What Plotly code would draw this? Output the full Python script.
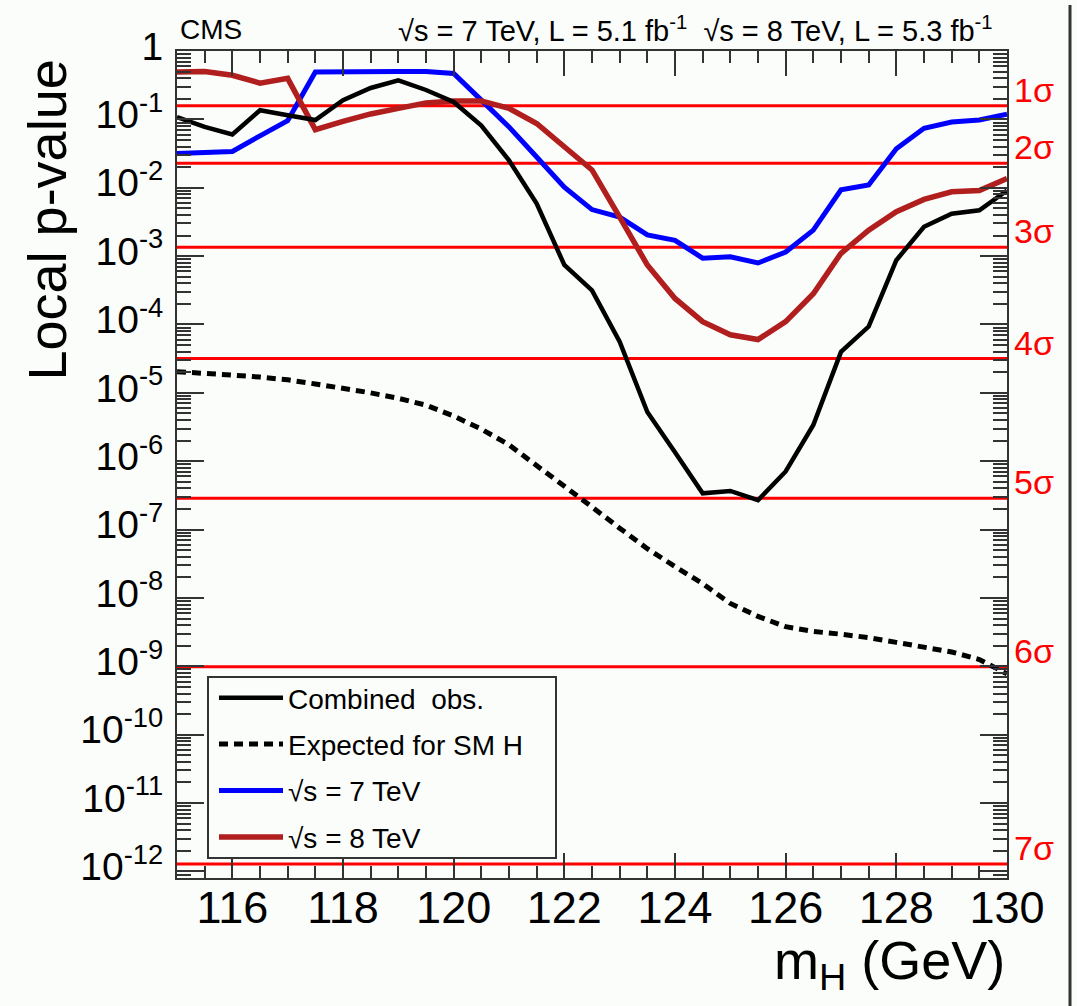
import math
import plotly.graph_objects as go

# ---------------- data ----------------
mass = [115.0, 115.5, 116.0, 116.5, 117.0, 117.5, 118.0, 118.5, 119.0, 119.5,
        120.0, 120.5, 121.0, 121.5, 122.0, 122.5, 123.0, 123.5, 124.0, 124.5,
        125.0, 125.5, 126.0, 126.5, 127.0, 127.5, 128.0, 128.5, 129.0, 129.5, 130.0]

p_combined = [0.108, 0.0776, 0.0603, 0.136, 0.115, 0.0977, 0.191, 0.288, 0.372, 0.269,
              0.180, 0.0813, 0.0251, 5.89e-3, 7.41e-4, 3.16e-4, 5.62e-5, 5.25e-6, 1.35e-6, 3.39e-7,
              3.67e-7, 2.69e-7, 7.08e-7, 3.39e-6, 3.98e-5, 9.33e-5, 8.71e-4, 2.69e-3, 4.17e-3, 4.68e-3, 9.12e-3]

p_expected = [2.04e-5, 1.95e-5, 1.82e-5, 1.70e-5, 1.55e-5, 1.35e-5, 1.17e-5, 1.00e-5, 8.32e-6, 6.61e-6,
              4.57e-6, 2.95e-6, 1.74e-6, 8.71e-7, 4.47e-7, 2.14e-7, 1.05e-7, 5.25e-8, 2.88e-8, 1.62e-8,
              8.32e-9, 5.37e-9, 3.80e-9, 3.24e-9, 2.95e-9, 2.63e-9, 2.24e-9, 1.91e-9, 1.62e-9, 1.26e-9, 7.76e-10]

p_7tev = [0.0316, 0.0324, 0.0339, 0.0575, 0.0955, 0.493, 0.50, 0.50, 0.50, 0.50,
          0.468, 0.191, 0.0776, 0.0282, 0.0102, 4.79e-3, 3.72e-3, 2.04e-3, 1.70e-3, 9.33e-4,
          9.77e-4, 7.94e-4, 1.15e-3, 2.40e-3, 9.33e-3, 0.0110, 0.0372, 0.0741, 0.0912, 0.0977, 0.119]

p_8tev = [0.493, 0.50, 0.442, 0.339, 0.398, 0.0708, 0.0933, 0.120, 0.145, 0.174,
          0.186, 0.186, 0.145, 0.0871, 0.0398, 0.0182, 3.72e-3, 7.41e-4, 2.40e-4, 1.10e-4,
          7.08e-5, 6.03e-5, 1.10e-4, 2.82e-4, 1.10e-3, 2.40e-3, 4.47e-3, 6.76e-3, 8.71e-3, 9.12e-3, 0.0136]

sigma_p = [0.1587, 0.02275, 1.35e-3, 3.167e-5, 2.867e-7, 9.866e-10, 1.280e-12]
sigma_labels = ["1σ", "2σ", "3σ", "4σ", "5σ", "6σ", "7σ"]

y_tick_vals = [1, 1e-1, 1e-2, 1e-3, 1e-4, 1e-5, 1e-6, 1e-7, 1e-8, 1e-9, 1e-10, 1e-11, 1e-12]
y_tick_text = ["1"] + ["10<sup>-%d</sup>" % k for k in range(1, 13)]
x_tick_vals = [116, 118, 120, 122, 124, 126, 128, 130]
x_range = [115, 130]
y_range_log = [-12.096, 0]

# ---------------- styling ----------------
FONT = "Liberation Sans, Arial, Helvetica, sans-serif"
W, H = 1077, 1006
L_M, R_M, T_M, B_M = 177, 70, 51, 128
plot_w = W - L_M - R_M
plot_h = H - T_M - B_M
BG = "#fbfdfb"
AXCOL = "#333333"


def px_to_paper_x(px):
    return (px - L_M) / plot_w


def px_to_paper_y(py):
    return (H - B_M - py) / plot_h


fig = go.Figure()

# sigma reference lines
for p in sigma_p:
    fig.add_trace(go.Scatter(x=[x_range[0], x_range[1]], y=[p, p], mode="lines",
                             line=dict(color="#ff0000", width=3), showlegend=False,
                             hoverinfo="skip"))

fig.add_trace(go.Scatter(x=mass, y=p_7tev, mode="lines", name="√s = 7 TeV",
                         line=dict(color="#0000ff", width=5), legendrank=3,
                         legendgroup="c"))
fig.add_trace(go.Scatter(x=mass, y=p_8tev, mode="lines", name="√s = 8 TeV",
                         line=dict(color="#b01e1e", width=5.5), legendrank=4,
                         legendgroup="d"))
fig.add_trace(go.Scatter(x=mass, y=p_expected, mode="lines", name="Expected for SM H",
                         line=dict(color="#000000", width=5, dash="9px,6px"), legendrank=2,
                         legendgroup="b"))
fig.add_trace(go.Scatter(x=mass, y=p_combined, mode="lines", name="Combined  obs.",
                         line=dict(color="#000000", width=4.5), legendrank=1,
                         legendgroup="a"))

# minor tick positions on the log axis
y_minor = []
for e in range(-13, 0):
    for m in range(2, 10):
        v = m * 10.0 ** e
        if math.log10(v) >= y_range_log[0]:
            y_minor.append(v)

fig.update_xaxes(range=x_range, tickmode="array", tickvals=x_tick_vals,
                 ticks="inside", ticklen=25, tickwidth=1.5, tickcolor=AXCOL,
                 minor=dict(dtick=0.5, tick0=115, ticks="inside", ticklen=12,
                            tickwidth=1.5, tickcolor=AXCOL),
                 showline=True, linecolor=AXCOL, linewidth=2, mirror="allticks",
                 showgrid=False, zeroline=False,
                 tickfont=dict(family=FONT, size=45, color="#000"),
                 ticklabelstandoff=-11)
fig.update_yaxes(type="log", range=y_range_log, tickmode="array",
                 tickvals=y_tick_vals, ticktext=y_tick_text,
                 ticks="inside", ticklen=27, tickwidth=1.5, tickcolor=AXCOL,
                 minor=dict(tickmode="array", tickvals=y_minor, ticks="inside",
                            ticklen=14, tickwidth=1.5, tickcolor=AXCOL),
                 showline=True, linecolor=AXCOL, linewidth=2, mirror="allticks",
                 showgrid=False, zeroline=False,
                 tickfont=dict(family=FONT, size=39, color="#000"),
                 ticklabelstandoff=4, ticklabelshift=-5)

annotations = []
# sigma labels
for p, lab in zip(sigma_p, sigma_labels):
    annotations.append(dict(text=lab, xref="paper", x=1.0, xanchor="left", xshift=5,
                            yref="y", y=math.log10(p), yanchor="bottom", yshift=-5,
                            showarrow=False, font=dict(family=FONT, size=34, color="#ff0000")))
# titles and header texts
annotations.append(dict(text="Local p-value", textangle=-90, xref="paper",
                        x=px_to_paper_x(47), xanchor="center", yref="paper",
                        y=px_to_paper_y(58), yanchor="top", showarrow=False,
                        font=dict(family=FONT, size=54, color="#000")))
annotations.append(dict(text="m<sub>H</sub> (GeV)", xref="paper", x=px_to_paper_x(1007),
                        xanchor="right", yref="paper", y=px_to_paper_y(964),
                        yanchor="middle", showarrow=False,
                        font=dict(family=FONT, size=54, color="#000")))
annotations.append(dict(text="CMS", xref="paper", x=px_to_paper_x(178), xanchor="left",
                        yref="paper", y=px_to_paper_y(29), yanchor="middle",
                        showarrow=False, font=dict(family=FONT, size=28, color="#000")))
annotations.append(dict(text="√s = 7 TeV, L = 5.1 fb<sup>-1</sup>  √s = 8 TeV, L = 5.3 fb<sup>-1</sup>",
                        xref="paper", x=px_to_paper_x(995), xanchor="right",
                        yref="paper", y=px_to_paper_y(29), yanchor="middle",
                        showarrow=False, font=dict(family=FONT, size=29, color="#000")))

shapes = [
    # image border line at the right edge
    dict(type="line", xref="paper", yref="paper",
         x0=px_to_paper_x(1070), x1=px_to_paper_x(1070),
         y0=px_to_paper_y(1006), y1=px_to_paper_y(5),
         line=dict(color="#333333", width=3)),
    # legend box
    dict(type="rect", xref="paper", yref="paper", layer="above",
         x0=px_to_paper_x(208), x1=px_to_paper_x(556),
         y0=px_to_paper_y(858), y1=px_to_paper_y(677),
         fillcolor=BG, line=dict(color="#333333", width=2)),
]

fig.update_layout(
    width=W, height=H,
    margin=dict(l=L_M, r=R_M, t=T_M, b=B_M, autoexpand=False),
    paper_bgcolor=BG, plot_bgcolor=BG,
    font=dict(family=FONT, color="#000"),
    showlegend=True,
    legend=dict(x=px_to_paper_x(214), xanchor="left", y=px_to_paper_y(673), yanchor="top",
                bgcolor="rgba(0,0,0,0)", borderwidth=0,
                font=dict(family=FONT, size=28, color="#000"),
                tracegroupgap=7, itemwidth=64),
    annotations=annotations,
    shapes=shapes,
)

fig.write_html("out.html", config={"displayModeBar": False},
               post_script="document.body.style.margin='0px';document.body.style.overflow='hidden';")
